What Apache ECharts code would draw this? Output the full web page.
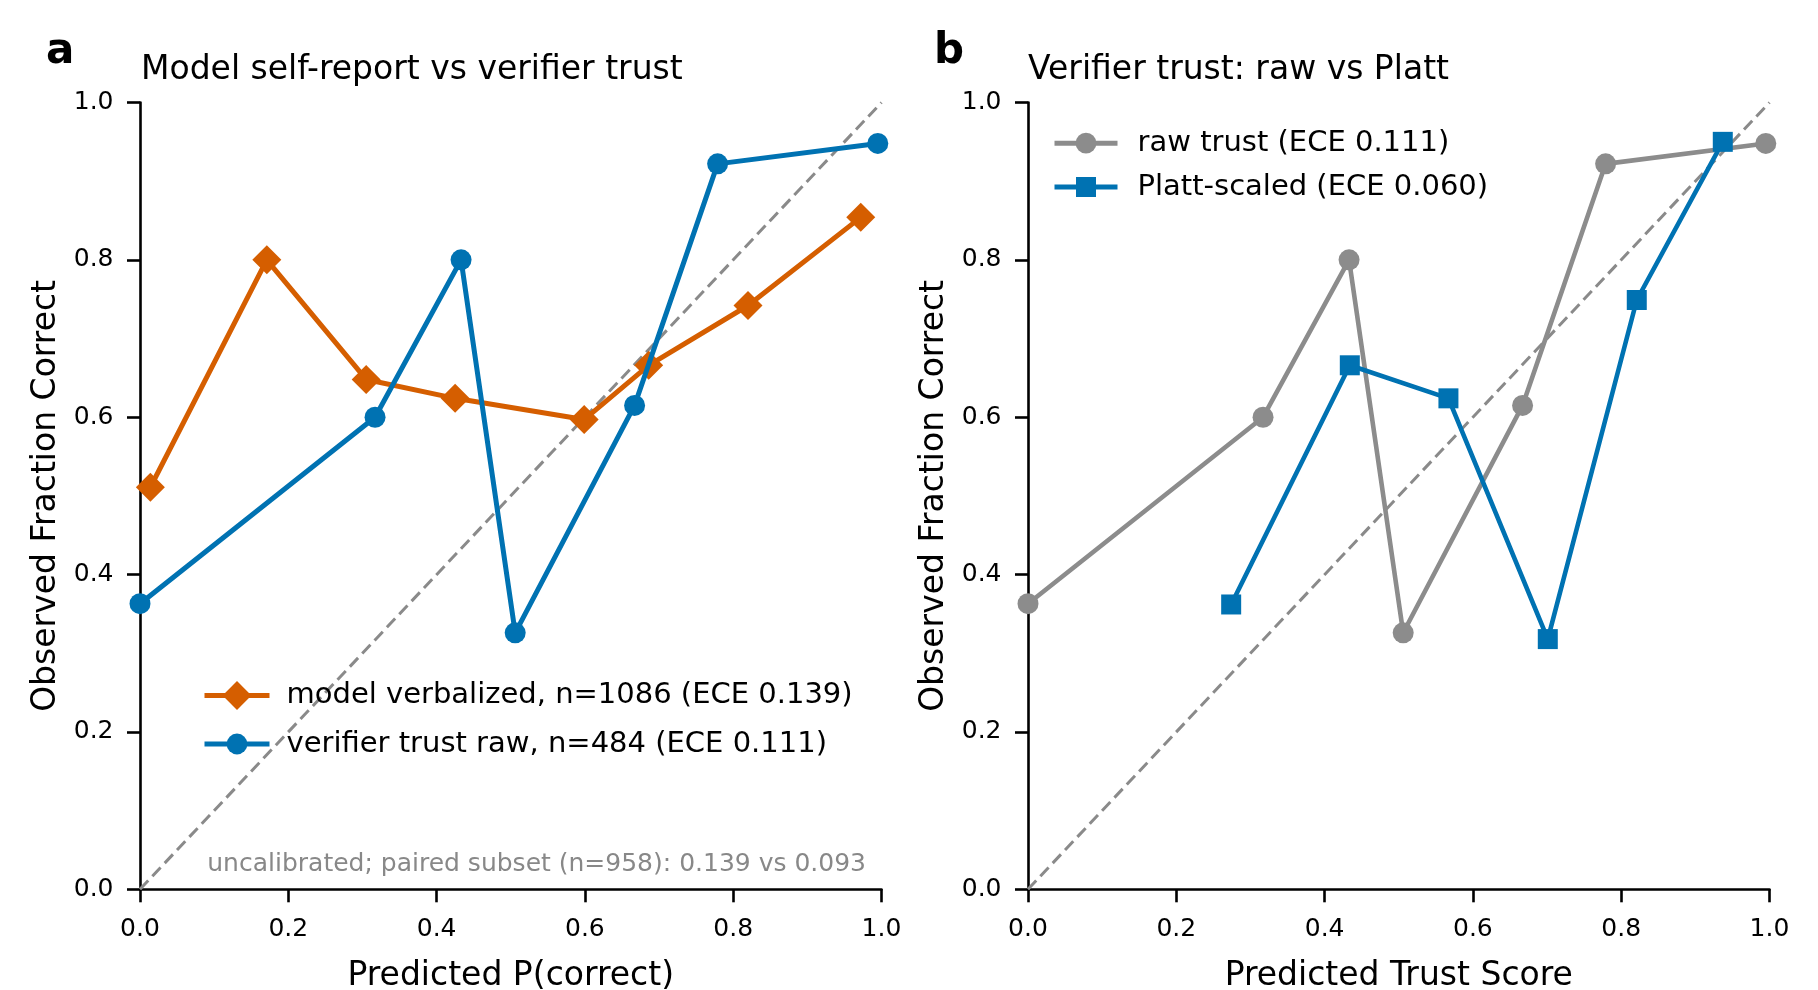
<!DOCTYPE html>
<html>
<head>
<meta charset="utf-8">
<script src="https://cdn.jsdelivr.net/npm/echarts@6/dist/echarts.min.js"></script>
<style>
html,body{margin:0;padding:0;background:#fff;}
#chart{width:1818px;height:990px;}
</style>
</head>
<body>
<div id="chart"></div>
<script>
// ---- data ----
const xTicks = [0.0, 0.2, 0.4, 0.6, 0.8, 1.0];
const yTicks = [0.0, 0.2, 0.4, 0.6, 0.8, 1.0];

const verbalizedX = [0.014, 0.171, 0.305, 0.425, 0.599, 0.686, 0.820, 0.972];
const verbalizedY = [0.511, 0.800, 0.648, 0.624, 0.597, 0.666, 0.742, 0.854];

const trustRawX = [0.000, 0.317, 0.433, 0.506, 0.667, 0.779, 0.995];
const trustRawY = [0.363, 0.600, 0.800, 0.326, 0.615, 0.922, 0.948];

const plattX = [0.274, 0.434, 0.567, 0.701, 0.821, 0.937];
const plattY = [0.362, 0.666, 0.624, 0.318, 0.749, 0.950];

const diagonal = [[0, 0], [1, 1]];

const titleA = 'Model self-report vs verifier trust';
const titleB = 'Verifier trust: raw vs Platt';
const xNameA = 'Predicted P(correct)';
const xNameB = 'Predicted Trust Score';
const yName = 'Observed Fraction Correct';
const nameVerbal = 'model verbalized, n=1086 (ECE 0.139)';
const nameTrustA = 'verifier trust raw, n=484 (ECE 0.111)';
const nameRawB = 'raw trust (ECE 0.111)';
const namePlatt = 'Platt-scaled (ECE 0.060)';
const noteA = 'uncalibrated; paired subset (n=958): 0.139 vs 0.093';

// ---- styling ----
const FONT = 'DejaVu Sans';
const ORANGE = '#D55E00';
const BLUE = '#0072B2';
const GRAY = '#8c8c8c';
const DIAG = '#8a8a8a';

function zip(xs, ys) { return xs.map((x, i) => [x, ys[i]]); }

function xAxis(gridIndex, name) {
  return {
    type: 'value', gridIndex, min: 0, max: 1, interval: 0.2,
    name, nameLocation: 'middle', nameGap: 71,
    nameTextStyle: { fontFamily: FONT, fontSize: 33, color: '#000' },
    axisLine: { show: true, onZero: false, lineStyle: { color: '#000', width: 2.6 } },
    axisTick: { show: true, length: 13, lineStyle: { color: '#000', width: 2.6 } },
    axisLabel: { margin: 28, fontFamily: FONT, fontSize: 25, color: '#000',
      formatter: v => v.toFixed(1) },
    splitLine: { show: false }
  };
}
function yAxis(gridIndex, name) {
  return {
    type: 'value', gridIndex, min: 0, max: 1, interval: 0.2,
    name, nameLocation: 'middle', nameGap: 77,
    nameTextStyle: { fontFamily: FONT, fontSize: 33, color: '#000' },
    axisLine: { show: true, onZero: false, lineStyle: { color: '#000', width: 2.6 } },
    axisTick: { show: true, length: 13, lineStyle: { color: '#000', width: 2.6 } },
    axisLabel: { margin: 26.5, fontFamily: FONT, fontSize: 25, color: '#000',
      formatter: v => v.toFixed(1) },
    splitLine: { show: false }
  };
}

function legendItem(name, left, centerY, h, w, pad) {
  return {
    orient: 'vertical', left, top: centerY - h / 2, padding: 0,
    itemWidth: w, itemHeight: h,
    data: [name],
    lineStyle: { width: 5 },
    textStyle: { fontFamily: FONT, fontSize: 29, color: '#000', padding: [0, 0, 0, pad] }
  };
}

const chart = echarts.init(document.getElementById('chart'), null, { renderer: 'canvas' });

const option = {
  animation: false,
  backgroundColor: '#fff',
  grid: [
    { left: 140, top: 102.5, width: 741.5, height: 786.8, containLabel: false, outerBoundsMode: 'none' },
    { left: 1028, top: 102.5, width: 741.5, height: 786.8, containLabel: false, outerBoundsMode: 'none' }
  ],
  xAxis: [xAxis(0, xNameA), xAxis(1, xNameB)],
  yAxis: [yAxis(0, yName), yAxis(1, yName)],
  title: [
    { text: titleA, left: 141, top: 53.5, padding: 0,
      textStyle: { fontFamily: FONT, fontSize: 33, fontWeight: 'normal', color: '#000' } },
    { text: titleB, left: 1028, top: 53.5, padding: 0,
      textStyle: { fontFamily: FONT, fontSize: 33, fontWeight: 'normal', color: '#000' } },
    { text: 'a', left: 46, top: 31, padding: 0,
      textStyle: { fontFamily: FONT, fontSize: 42, fontWeight: 'bold', color: '#000' } },
    { text: 'b', left: 934, top: 31, padding: 0,
      textStyle: { fontFamily: FONT, fontSize: 42, fontWeight: 'bold', color: '#000' } }
  ],
  legend: [
    legendItem(nameVerbal, 202, 699, 36, 65, 12),
    legendItem(nameTrustA, 202, 742.5, 26, 65, 12),
    legendItem(nameRawB, 1052, 141.7, 26, 63, 15),
    legendItem(namePlatt, 1052, 185, 25, 63, 15)
  ],
  graphic: [
    { type: 'text', x: 866, y: 864, silent: true,
      style: { text: noteA, fontFamily: FONT, fontSize: 25, fill: '#888888',
        align: 'right', verticalAlign: 'middle' } }
  ],
  series: [
    { type: 'line', xAxisIndex: 0, yAxisIndex: 0, data: diagonal, symbol: 'none', silent: true, z: 1,
      lineStyle: { color: DIAG, width: 3, type: [12, 6] } },
    { type: 'line', xAxisIndex: 1, yAxisIndex: 1, data: diagonal, symbol: 'none', silent: true, z: 1,
      lineStyle: { color: DIAG, width: 3, type: [12, 6] } },
    { name: nameVerbal, type: 'line', xAxisIndex: 0, yAxisIndex: 0, z: 3,
      data: zip(verbalizedX, verbalizedY), symbol: 'diamond', symbolSize: 29,
      lineStyle: { color: ORANGE, width: 5 }, itemStyle: { color: ORANGE } },
    { name: nameTrustA, type: 'line', xAxisIndex: 0, yAxisIndex: 0, z: 4,
      data: zip(trustRawX, trustRawY), symbol: 'circle', symbolSize: 21,
      lineStyle: { color: BLUE, width: 5 }, itemStyle: { color: BLUE } },
    { name: nameRawB, type: 'line', xAxisIndex: 1, yAxisIndex: 1, z: 3,
      data: zip(trustRawX, trustRawY), symbol: 'circle', symbolSize: 21,
      lineStyle: { color: GRAY, width: 4.6 }, itemStyle: { color: GRAY } },
    { name: namePlatt, type: 'line', xAxisIndex: 1, yAxisIndex: 1, z: 4,
      data: zip(plattX, plattY), symbol: 'square', symbolSize: 20,
      lineStyle: { color: BLUE, width: 4.6 }, itemStyle: { color: BLUE } }
  ]
};
chart.setOption(option);
</script>
</body>
</html>
